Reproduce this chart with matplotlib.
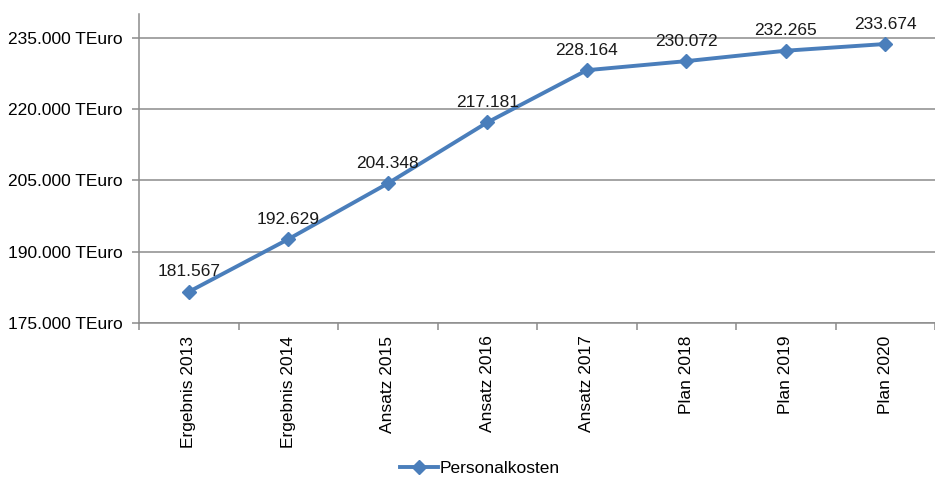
import matplotlib
matplotlib.use("Agg")
import matplotlib.pyplot as plt
from matplotlib.ticker import FuncFormatter, FixedLocator
import numpy as np

plt.rcParams['font.family'] = ['Liberation Sans Narrow', 'Liberation Sans', 'DejaVu Sans']

# Daten
kategorien = ["Ergebnis 2013", "Ergebnis 2014", "Ansatz 2015", "Ansatz 2016",
              "Ansatz 2017", "Plan 2018", "Plan 2019", "Plan 2020"]
personalkosten = [181567, 192629, 204348, 217181, 228164, 230072, 232265, 233674]
y_ticks = [175000, 190000, 205000, 220000, 235000]


def de_format(v):
    return f"{v:,.0f}".replace(",", ".")


fig = plt.figure(figsize=(9.35, 4.8), dpi=100)
ax = fig.add_axes([0.1487, 0.327, 0.8513, 0.644])

x = np.arange(len(kategorien))
blau = '#4a7ebb'
grau = '#8c8c8c'

ax.plot(x, personalkosten, color=blau, linewidth=2.8, marker='D',
        markersize=7.5, label='Personalkosten', zorder=3)

for xi, v in zip(x, personalkosten):
    ax.annotate(f"{v / 1000:.3f}", (xi, v), xytext=(0, 9), textcoords='offset points',
                ha='center', va='bottom', fontsize=12.5, color='#1a1a1a')

ax.set_xlim(-0.5, len(kategorien) - 0.5)
ax.set_ylim(175000, 240000)

ax.yaxis.set_major_locator(FixedLocator(y_ticks))
ax.yaxis.set_major_formatter(FuncFormatter(lambda v, p: de_format(v) + " TEuro"))
ax.grid(axis='y', color=grau, linewidth=1.1)
ax.set_axisbelow(True)

ax.set_xticks(x)
ax.set_xticklabels(kategorien, rotation=90, fontsize=12.5)
ax.set_xticks(np.arange(len(kategorien) + 1) - 0.5, minor=True)
ax.tick_params(axis='x', which='major', length=0, pad=9)
ax.tick_params(axis='x', which='minor', length=5, color=grau, width=1.1)
ax.tick_params(axis='y', length=5, color=grau, width=1.1, labelsize=12.5, pad=7)

for s in ['top', 'right']:
    ax.spines[s].set_visible(False)
for s in ['left', 'bottom']:
    ax.spines[s].set_color(grau)
    ax.spines[s].set_linewidth(1.1)

fig.legend(loc='center', bbox_to_anchor=(0.513, 0.025), frameon=False,
           fontsize=12.5, handlelength=2.2, handletextpad=0.1)

fig.savefig("out.png", dpi=100)
